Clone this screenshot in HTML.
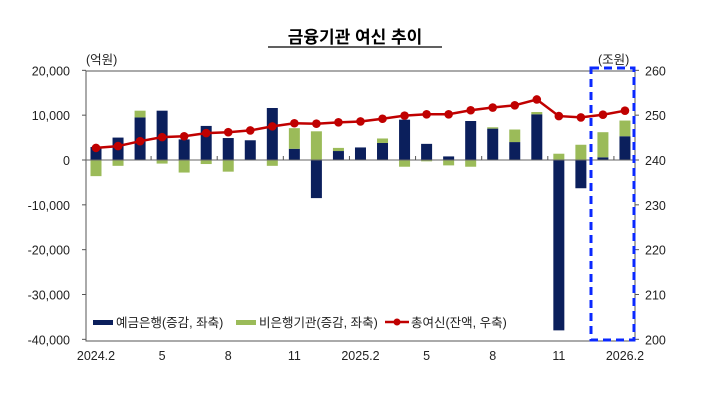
<!DOCTYPE html>
<html><head><meta charset="utf-8"><style>
body{margin:0;background:#fff;width:710px;height:414px;overflow:hidden}
svg text{font-family:"Liberation Sans","Noto Sans CJK KR",sans-serif;fill:#222}
</style></head><body>
<svg id="s" width="710" height="414" xmlns="http://www.w3.org/2000/svg">
<text x="355" y="43" text-anchor="middle" font-size="17" font-weight="bold" style="fill:#000">금융기관 여신 추이</text>
<line x1="268" y1="47" x2="442" y2="47" stroke="#000" stroke-width="1.3"/>
<text x="86" y="64" font-size="12.5">(억원)</text>
<text x="598" y="64" font-size="12.5">(조원)</text>
<rect x="86" y="71" width="549" height="270" fill="none" stroke="#555" stroke-width="1"/>
<g id="g"></g>
</svg>
<script>
const g=document.getElementById('g');let h='';
const y0=160,k=269/60000;
const Y=v=>y0-v*k, R=v=>160-(v-240)*4.483;
for(let v=20000;v>=-40000;v-=10000){const y=Y(v);
h+=`<text x="70" y="${y+5}" font-size="12.5" text-anchor="end">${v.toLocaleString('en-US')}</text>`;
h+=`<line x1="82" x2="86" y1="${y}" y2="${y}" stroke="#555"/>`;}
for(let v=260;v>=200;v-=10){const y=R(v);h+=`<text x="645" y="${y+5}" font-size="12.5">${v}</text>`;
h+=`<line x1="635" x2="639" y1="${y}" y2="${y}" stroke="#555"/>`;}
const dep=[2900,5000,9500,11000,4600,7600,4900,4400,11600,2500,-8500,2000,2800,3800,9000,3600,800,8700,7000,4000,10200,-38000,-6300,600,5300];
const nb=[-3600,-1300,1500,-800,-2800,-900,-2600,0,-1300,4600,6400,700,0,1000,-1500,-300,-1200,-1500,300,2800,500,1400,3400,5600,3500];
const ln=[242.7,243.1,244.2,245.1,245.3,246.0,246.2,246.6,247.5,248.2,248.1,248.4,248.6,249.2,249.9,250.2,250.2,251.1,251.7,252.2,253.5,249.8,249.5,250.1,251.0];
const X=i=>96+i*22.04,w=11;
for(let i=0;i<25;i++){const x=X(i)-w/2,d=dep[i],n=nb[i];
let dt=Math.min(Y(d),y0),dh=Math.abs(d)*k;
h+=`<rect x="${x}" y="${dt}" width="${w}" height="${dh}" fill="#0b1f5c"/>`;
let nt,nh=Math.abs(n)*k;
if(n>=0){nt=(d>0?Y(d):y0)-nh;}else{nt=(d<0?Y(d):y0);}
h+=`<rect x="${x}" y="${nt}" width="${w}" height="${nh}" fill="#9bbb59"/>`;}
h+=`<line x1="86" x2="635" y1="${y0}" y2="${y0}" stroke="#666"/>`;
for(let i=0;i<25;i++)if(i%3==2)h+=`<line x1="${X(i)+11}" x2="${X(i)+11}" y1="${y0}" y2="${y0-4}" stroke="#555"/>`;
h+=`<polyline fill="none" stroke="#c00000" stroke-width="2.5" points="${ln.map((v,i)=>X(i)+','+R(v)).join(' ')}"/>`;
ln.forEach((v,i)=>h+=`<circle cx="${X(i)}" cy="${R(v)}" r="4.3" fill="#c00000"/>`);
const labs=['2024.2','5','8','11','2025.2','5','8','11','2026.2'];
labs.forEach((t,j)=>h+=`<text x="${X(j*3)}" y="360" font-size="12.5" text-anchor="middle">${t}</text>`);
h+=`<rect x="93" y="320" width="20" height="5" fill="#0b1f5c"/><text x="116" y="327" font-size="12.5">예금은행(증감, 좌축)</text>`;
h+=`<rect x="236" y="320" width="20" height="5" fill="#9bbb59"/><text x="259" y="327" font-size="12.5">비은행기관(증감, 좌축)</text>`;
h+=`<line x1="385" x2="409" y1="322" y2="322" stroke="#c00000" stroke-width="2.5"/><circle cx="397" cy="322" r="3.5" fill="#c00000"/><text x="411" y="327" font-size="12.5">총여신(잔액, 우축)</text>`;
h+=`<rect x="591" y="68" width="43" height="272" fill="none" stroke="#0a28ff" stroke-width="3" stroke-dasharray="8,5"/>`;
g.innerHTML=h;
</script>
</body></html>
